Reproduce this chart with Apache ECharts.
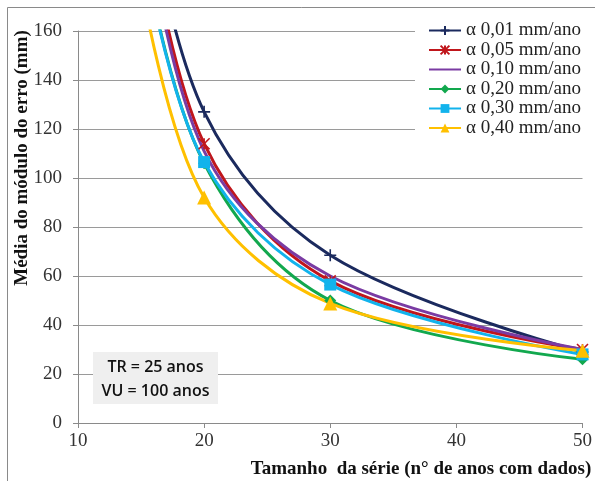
<!DOCTYPE html>
<html>
<head>
<meta charset="utf-8">
<script src="https://cdn.jsdelivr.net/npm/echarts@6/dist/echarts.min.js"></script>
<style>
  html, body { margin: 0; padding: 0; background: #fff; }
  #chart { width: 595px; height: 481px; }
</style>
</head>
<body>
<div id="chart"></div>
<script>
// Series length (years of record) on the x axis
const seriesYears = [15, 20, 30, 50];

// Mean absolute error (mm) for each rate alpha
const alpha001 = [228, 127, 68.5, 29];
const alpha005 = [222, 114, 58, 30];
const alpha010 = [218, 111, 60, 30];
const alpha020 = [198, 106, 50, 26];
const alpha030 = [198, 106.5, 56.5, 28];
const alpha040 = [180, 92, 48.8, 29.5];

const seriesNames = [
  'α 0,01 mm/ano', 'α 0,05 mm/ano', 'α 0,10 mm/ano',
  'α 0,20 mm/ano', 'α 0,30 mm/ano', 'α 0,40 mm/ano'
];
const xTicks = [10, 20, 30, 40, 50];
const yTicks = [0, 20, 40, 60, 80, 100, 120, 140, 160];

const plusPath = 'path://M0,5L10,5M5,0L5,10';
const starPath = 'path://M0,0L10,10M10,0L0,10M5,0L5,10';

function pairs(values) {
  return seriesYears.map((x, i) => [x, values[i]]);
}

function lineSeries(name, values, color, symbol, size, stroke) {
  return {
    name: name,
    type: 'line',
    smooth: 0.35,
    data: pairs(values),
    symbol: symbol,
    symbolSize: size,
    showSymbol: symbol !== 'none',
    lineStyle: { color: color, width: 3 },
    itemStyle: stroke
      ? { color: color, borderColor: color, borderWidth: 1.6 }
      : { color: color, borderWidth: 0 },
    emphasis: { disabled: true },
    clip: true,
    z: 3
  };
}

const chart = echarts.init(document.getElementById('chart'), null, { renderer: 'canvas' });

const serif = '"Liberation Serif", "DejaVu Serif", serif';

chart.setOption({
  animation: false,
  backgroundColor: '#fff',
  grid: { left: 78, right: 12, top: 31, bottom: 58, containLabel: false },
  xAxis: {
    type: 'value',
    min: 10, max: 50, interval: 10,
    axisLine: { show: true, lineStyle: { color: '#8a8a8a', width: 1 } },
    axisTick: { show: true, length: 5, lineStyle: { color: '#8a8a8a' } },
    splitLine: { show: false },
    axisLabel: {
      color: '#333', fontFamily: serif, fontSize: 19, margin: 9,
      formatter: v => (xTicks.includes(v) ? String(v) : '')
    }
  },
  yAxis: {
    type: 'value',
    min: 0, max: 160, interval: 20,
    axisLine: { show: true, lineStyle: { color: '#8a8a8a', width: 1 } },
    axisTick: { show: true, length: 5, lineStyle: { color: '#8a8a8a' } },
    splitLine: { show: true, lineStyle: { color: '#9a9a9a', width: 1 } },
    axisLabel: {
      color: '#333', fontFamily: serif, fontSize: 19, margin: 16,
      formatter: v => (yTicks.includes(v) ? String(v) : '')
    }
  },
  legend: {
    orient: 'vertical',
    left: 415, top: 20,
    itemWidth: 32, itemHeight: 11, itemGap: 0.5,
    backgroundColor: '#fff',
    padding: [1, 14, 2, 13],
    textStyle: { fontFamily: serif, fontSize: 19, lineHeight: 19, color: '#222' },
    data: seriesNames.map((name, i) =>
      i === 2 ? { name: name, itemStyle: { opacity: 0 } } : { name: name })
  },
  series: [
    lineSeries(seriesNames[0], alpha001, '#1b2a5e', plusPath, 12, true),
    lineSeries(seriesNames[1], alpha005, '#c0161c', starPath, 11, true),
    lineSeries(seriesNames[2], alpha010, '#7a3ba3', 'none', 0, false),
    lineSeries(seriesNames[3], alpha020, '#12a84e', 'diamond', 12, false),
    lineSeries(seriesNames[4], alpha030, '#12b3ec', 'rect', 12, false),
    lineSeries(seriesNames[5], alpha040, '#ffc000', 'triangle', 14, false)
  ],
  graphic: [
    {
      type: 'rect', z: -1,
      shape: { x: 7.5, y: 7.5, width: 600, height: 500 },
      style: { fill: 'none', stroke: '#8a8a8a', lineWidth: 1 }
    },
    {
      type: 'text', z: 10,
      x: 22, y: 158, rotation: Math.PI / 2,
      style: {
        text: 'Média do módulo do erro (mm)',
        fontFamily: serif, fontWeight: 'bold', fontSize: 19, fill: '#111',
        align: 'center', verticalAlign: 'middle'
      }
    },
    {
      type: 'text', z: 10,
      x: 421, y: 469,
      style: {
        text: 'Tamanho  da série (n° de anos com dados)',
        fontFamily: serif, fontWeight: 'bold', fontSize: 19, fill: '#111',
        align: 'center', verticalAlign: 'middle'
      }
    },
    {
      type: 'rect', z: 10,
      shape: { x: 93, y: 352, width: 125, height: 52 },
      style: { fill: '#efefef' }
    },
    {
      type: 'text', z: 11,
      x: 155.5, y: 379,
      style: {
        text: 'TR = 25 anos\nVU = 100 anos',
        fontFamily: '"Open Sans", "Liberation Sans", sans-serif', fontSize: 16, fontWeight: 600,
        lineHeight: 24, fill: '#111', align: 'center', verticalAlign: 'middle'
      }
    }
  ]
});
</script>
</body>
</html>
